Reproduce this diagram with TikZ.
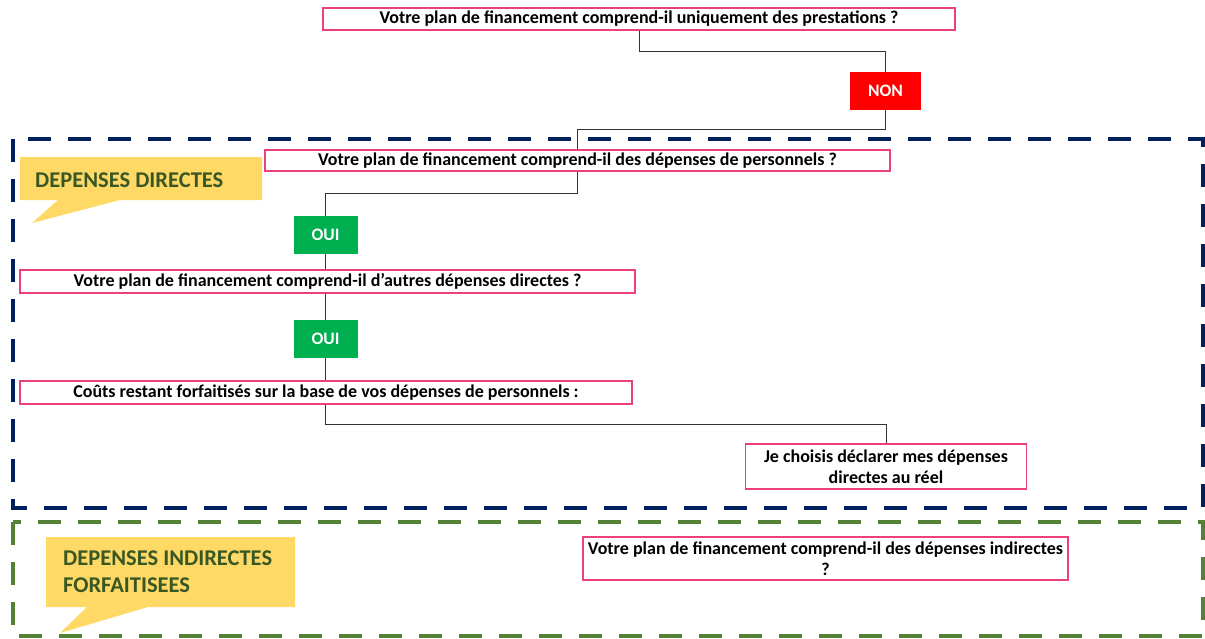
\documentclass[tikz,border=0pt]{standalone}
\usepackage{fontspec}
\setmainfont{Carlito}
\definecolor{qpink}{RGB}{236,64,122}
\definecolor{qnavy}{RGB}{0,32,96}
\definecolor{qgreenline}{RGB}{84,130,53}
\definecolor{qyellow}{RGB}{255,217,102}
\definecolor{qtext}{RGB}{56,87,35}
\definecolor{qoui}{RGB}{0,176,80}
\definecolor{qnon}{RGB}{255,0,0}
\tikzset{
  qbox/.style={draw=qpink, line width=1.2pt, fill=white, inner sep=0pt, align=center,
    font=\fontsize{18}{21}\selectfont\bfseries, text=black},
  ansbox/.style={inner sep=0pt, minimum width=64, minimum height=38,
    font=\fontsize{17.5}{20}\selectfont\bfseries, text=white},
  link/.style={draw=black!80, line width=1pt},
  zone/.style={line width=4pt, dash pattern=on 23pt off 17pt},
  calltext/.style={font=\fontsize{22.5}{27}\selectfont\bfseries, text=qtext, anchor=west, inner sep=0pt, align=left}
}
\begin{document}
\begin{tikzpicture}[x=1pt,y=-1pt]
\useasboundingbox (0,0) rectangle (1205,638);
% zones
\draw[zone, qnavy] (13,139) rectangle (1203,508);
\draw[zone, qgreenline] (13,522) rectangle (1203,636);
% callouts
\fill[qyellow] (20,157) -- (262,157) -- (262,200) -- (120,200) -- (32,223) -- (58,200) -- (20,200) -- cycle;
\node[calltext] (lbl1) at (35,180) {DEPENSES DIRECTES};
\fill[qyellow] (46,537) -- (295,537) -- (295,607) -- (148,607) -- (60,633) -- (87,607) -- (46,607) -- cycle;
\node[calltext] (lbl2) at (63,572) {DEPENSES INDIRECTES\\FORFAITISEES};
% boxes
\node[qbox, minimum width=632, minimum height=22] (A) at (639,19) {Votre plan de financement comprend-il uniquement des prestations ?};
\node[ansbox, fill=qnon, minimum width=71, minimum height=38] (non) at (885.5,91) {NON};
\node[qbox, minimum width=625, minimum height=21] (B) at (577.5,160.5) {Votre plan de financement comprend-il des dépenses de personnels ?};
\node[ansbox, fill=qoui] (oui1) at (325.5,235) {OUI};
\node[qbox, minimum width=615, minimum height=23] (C) at (327.5,281.5) {Votre plan de financement comprend-il d’autres dépenses directes ?};
\node[ansbox, fill=qoui] (oui2) at (325.5,339) {OUI};
\node[qbox, minimum width=612, minimum height=23] (D) at (326,392.5) {Coûts restant forfaitisés sur la base de vos dépenses de personnels :};
\node[qbox, minimum width=281, minimum height=45] (E) at (886,466.5) {Je choisis déclarer mes dépenses\\directes au réel};
\node[qbox, minimum width=485, minimum height=43] (F) at (825.5,558.5) {Votre plan de financement comprend-il des dépenses indirectes\\?};
% connectors
\draw[link] (A.south) -- ++(0,21) -| (non.north);
\draw[link] (non.south) -- ++(0,19) -| (B.north);
\draw[link] (B.south) -- ++(0,22) -| (oui1.north);
\draw[link] (oui1.south) -- (oui1.south |- C.north);
\draw[link] (oui2.north |- C.south) -- (oui2.north);
\draw[link] (oui2.south |- D.north) -- (oui2.south);
\draw[link] (oui2.south |- D.south) -- ++(0,20) -| (E.north);
\end{tikzpicture}
\end{document}
